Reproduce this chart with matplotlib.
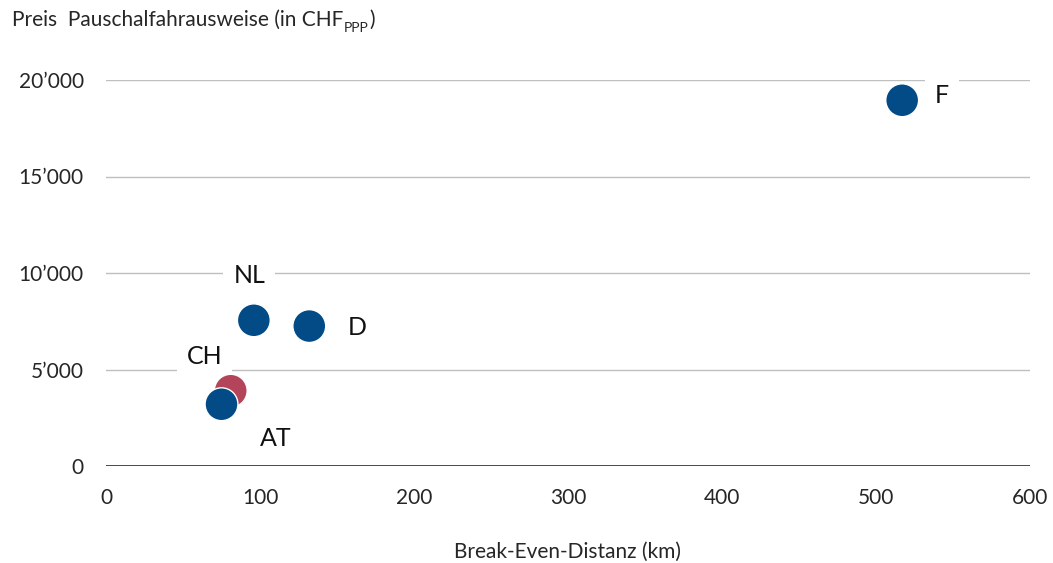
import matplotlib
matplotlib.use("Agg")
import matplotlib.pyplot as plt
from matplotlib.ticker import FuncFormatter

plt.rcParams['font.family'] = ['Lato', 'DejaVu Sans']

# Data: break-even distance (km) vs. price of flat-rate pass (CHF PPP)
countries = ["F", "NL", "D", "CH", "AT"]
distance_km = [517, 96, 132, 81, 75]
price_chf = [18950, 7550, 7250, 3900, 3200]
point_colors = ["#024B87", "#024B87", "#024B87", "#B44459", "#024B87"]

# label anchor positions in data coordinates
label_x = [543, 93, 163, 64, 110]
label_y = [19220, 9850, 7200, 5650, 1450]

x_ticks = [0, 100, 200, 300, 400, 500, 600]
y_ticks = [0, 5000, 10000, 15000, 20000]

fig = plt.figure(figsize=(10.53, 5.63), dpi=100)
ax = fig.add_axes([106 / 1053, 97 / 563, 924 / 1053, 386 / 563])

ax.set_xlim(0, 600)
ax.set_ylim(0, 20000)
ax.set_xticks(x_ticks)
ax.set_yticks(y_ticks)
ax.yaxis.set_major_formatter(FuncFormatter(lambda v, p: f"{int(v):,}".replace(",", "\u2019")))

for s in ["top", "right", "left", "bottom"]:
    ax.spines[s].set_visible(False)
ax.tick_params(length=0, labelsize=15, colors="#262626")
ax.tick_params(axis="y", pad=16)
ax.tick_params(axis="x", pad=16)

for yv in y_ticks[1:]:
    ax.axhline(yv, color="#BFBFBF", lw=1.0, zorder=1)
ax.axhline(0, color="#3A3A3A", lw=1.3, zorder=2)

ax.scatter(distance_km, price_chf, s=560, c=point_colors,
           edgecolors="white", linewidths=1.0, zorder=5, clip_on=False)

for name, lx, ly in zip(countries, label_x, label_y):
    ax.text(lx, ly, name, fontsize=18, color="#111111", ha="center", va="center",
            zorder=3, bbox=dict(boxstyle="square,pad=0.4", fc="white", ec="none"))

ax.set_xlabel("Break-Even-Distanz (km)", fontsize=15, color="#262626", labelpad=24)

# y-axis title with subscript, written as chained text pieces
t1 = fig.text(12 / 1053, 1 - 20 / 563, "Preis  Pauschalfahrausweise (in CHF",
              fontsize=15, color="#262626", ha="left", va="center")
sub = ax.annotate("PPP", xy=(1, 0), xycoords=t1, xytext=(0.5, -3),
                  textcoords="offset points", fontsize=10, color="#262626",
                  ha="left", va="bottom", annotation_clip=False)
ax.annotate(")", xy=(1, 0), xycoords=sub, xytext=(0.5, 3),
            textcoords="offset points", fontsize=15, color="#262626",
            ha="left", va="bottom", annotation_clip=False)

fig.savefig("out.png", dpi=100)
